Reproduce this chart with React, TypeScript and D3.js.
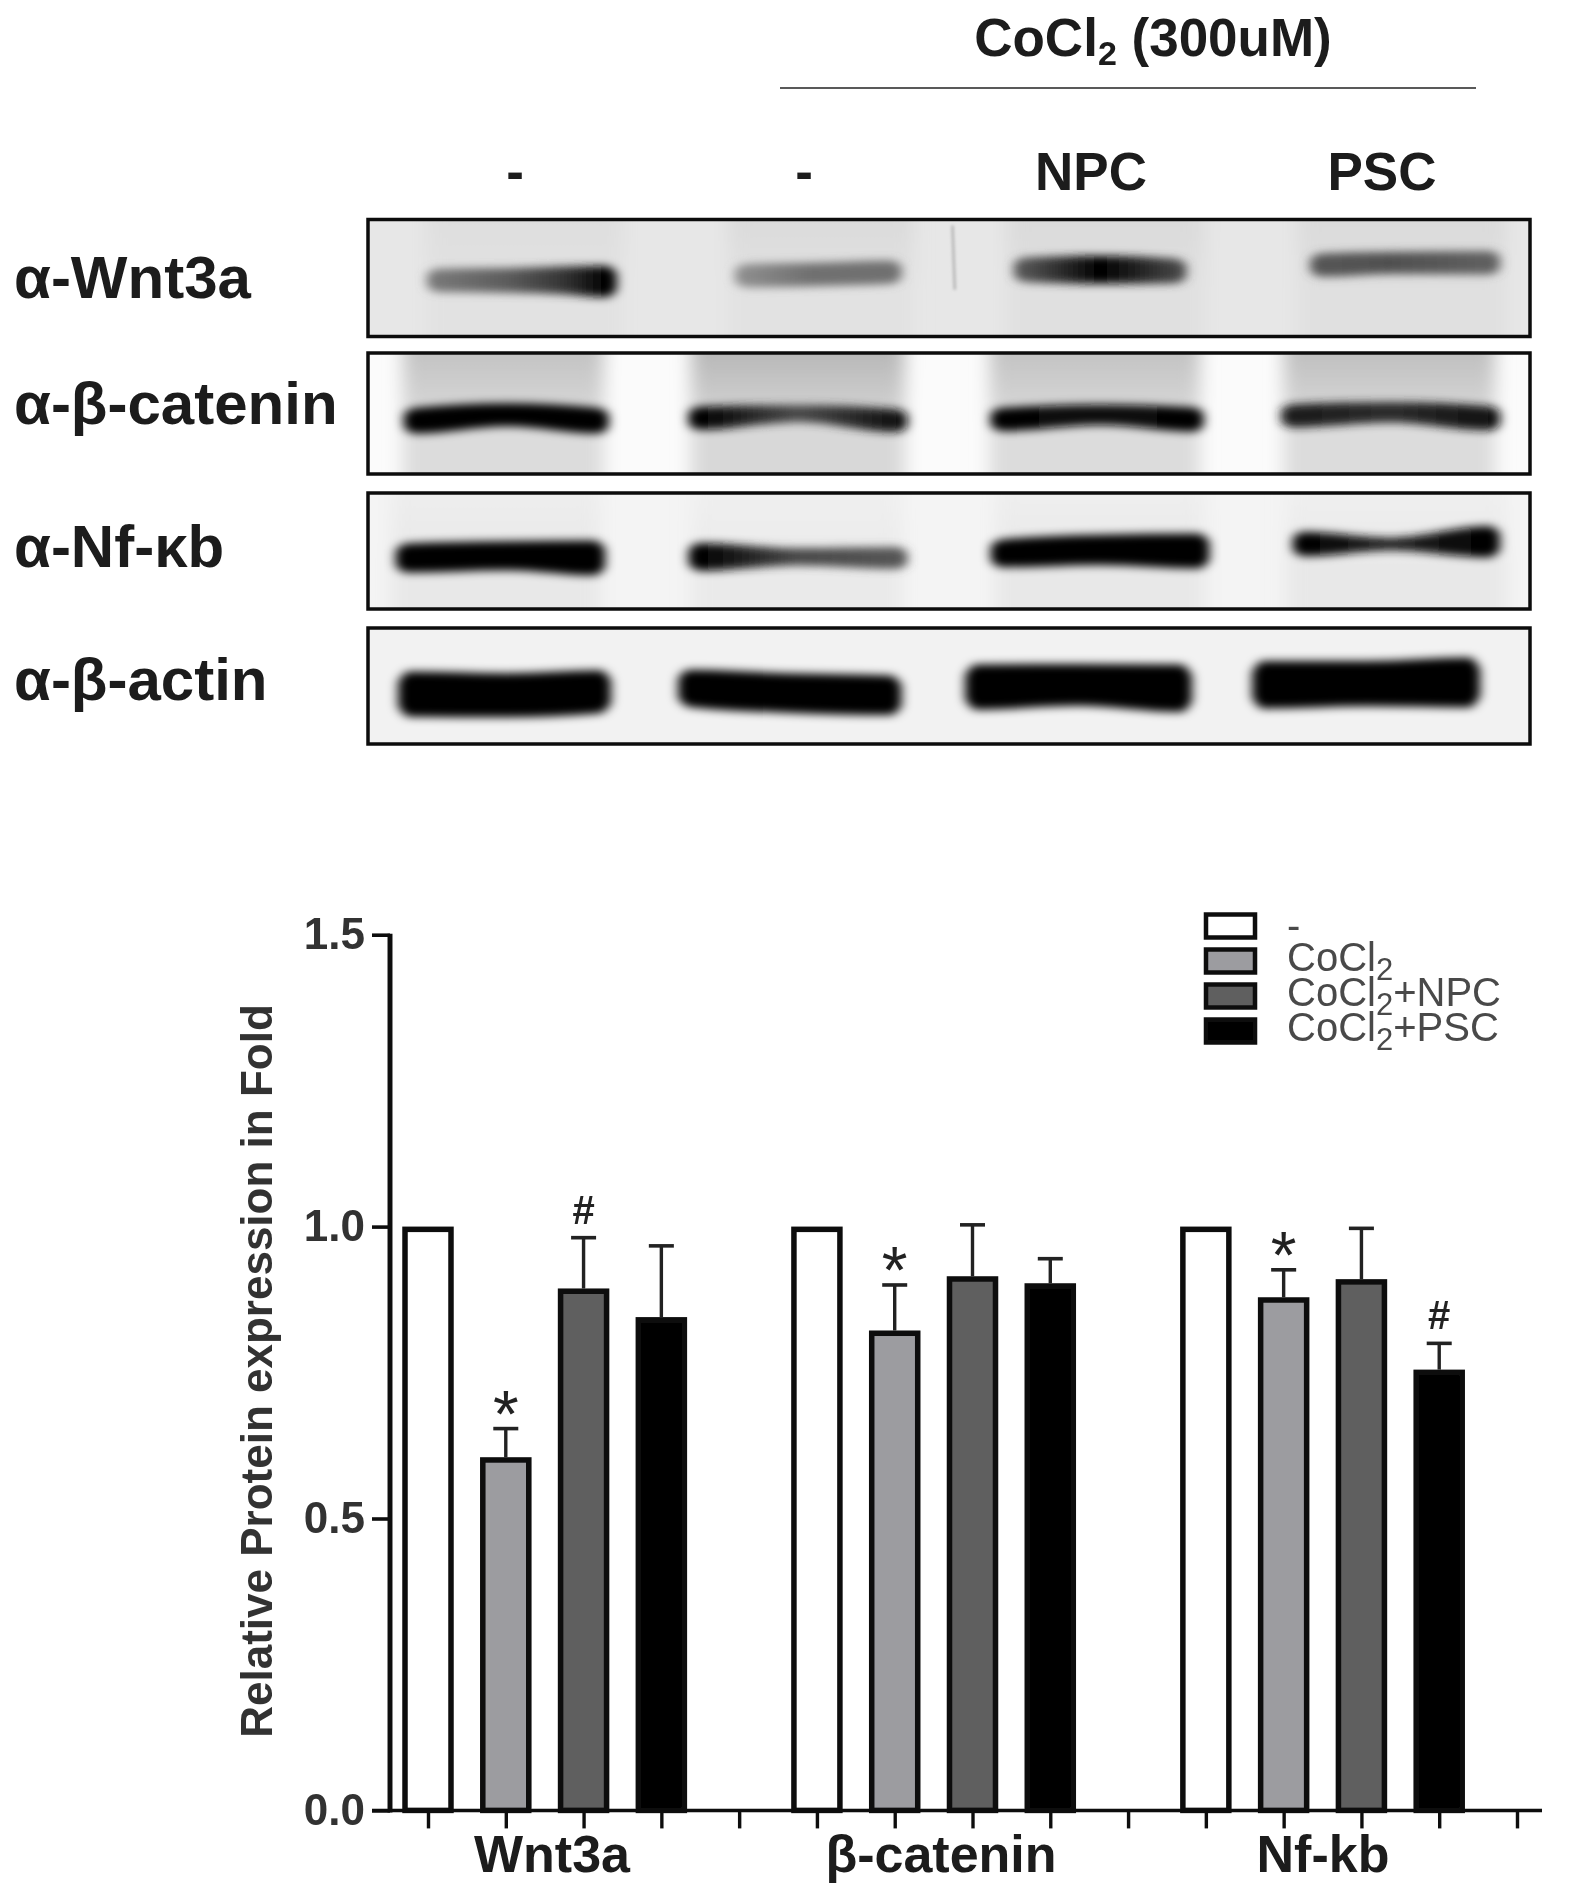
import React, { useEffect, useRef } from 'react';
import * as d3 from 'd3';

const groups = ['Wnt3a', 'β-catenin', 'Nf-kb'];
const groupLabelX = [552, 941, 1323];
const seriesNames = ['-', 'CoCl', 'CoCl', 'CoCl'];
const seriesSuffix = ['', '', '+NPC', '+PSC'];
const seriesFill = ['#ffffff', '#9c9ca0', '#5f5f5f', '#000000'];

// one row per group, one value per series
const means = [
    [1, 0.605, 0.894, 0.845],
    [1, 0.822, 0.915, 0.903],
    [1, 0.879, 0.91, 0.755],
];
const errorTops = [
    [null, 0.654, 0.981, 0.967],
    [null, 0.9, 1.003, 0.945],
    [null, 0.926, 0.997, 0.8],
];
const marks = [
    ['', '*', '#', ''],
    ['', '*', '', ''],
    ['', '*', '', '#'],
];
const yTicks = [0, 0.5, 1, 1.5];

const blotNames = ['α-Wnt3a', 'α-β-catenin', 'α-Nf-κb', 'α-β-actin'];
const blotTop = [219.5, 353, 493, 628];
const blotHeight = [117, 121, 116, 116];
const blotLabelBaseline = [298, 424, 567, 700];
const laneHeads = ['-', '-', 'NPC', 'PSC'];
const laneHeadX = [515, 804, 1091, 1382];
const blotBackground = ['#e7e7e7', '#fbfbfb', '#f4f4f4', '#f2f2f2'];

// faint lane smear behind the bands: [x from, x to] in % of the panel, top and bottom grey
const blotLanes = [
    [[5, 22, '#dedede', '#e2e2e2'], [31, 47, '#dadada', '#e2e2e2'], [55, 72, '#dadada', '#e0e0e0'], [80, 98, '#dadada', '#e0e0e0']],
    [[3, 20.3, '#c0c0c0', '#dcdcdc'], [27.8, 46.2, '#b4b4b4', '#d8d8d8'], [53.5, 71.6, '#c0c0c0', '#dcdcdc'], [78.8, 97, '#bcbcbc', '#dcdcdc']],
    [[2, 20, '#eeeeee', '#e8e8e8'], [27.8, 46, '#f0f0f0', '#eaeaea'], [54, 72, '#efefef', '#e8e8e8'], [79, 98, '#f0f0f0', '#e8e8e8']],
    [],
];

// band outline: [x %, centre y %, thickness %, grey]
const blotBands = [
    [
        [[6, 52, 20, '#777777'], [12, 52, 21, '#5c5c5c'], [17, 52, 24, '#333333'], [20.5, 53, 27, '#000000']],
        [[32.5, 48, 20, '#8c8c8c'], [38, 47, 20, '#707070'], [45, 45, 20, '#707070']],
        [[56.5, 43, 21, '#555555'], [63, 43, 24, '#000000'], [69.5, 44, 21, '#444444']],
        [[82, 39, 20, '#555555'], [88, 37, 19, '#505050'], [96.5, 37, 20, '#606060']],
    ],
    [
        [[4, 56, 21, '#000000'], [12, 51, 19, '#000000'], [19.8, 56, 21, '#000000']],
        [[28.5, 54, 19, '#000000'], [37, 50, 14, '#4a4a4a'], [45.5, 56, 19, '#111111']],
        [[54.5, 55, 19, '#000000'], [63, 51, 17, '#111111'], [71, 55, 20, '#000000']],
        [[79.5, 52, 19, '#1a1a1a'], [88, 49, 17, '#2c2c2c'], [96.5, 54, 20, '#111111']],
    ],
    [
        [[3.3, 56, 25, '#000000'], [12, 54, 25, '#000000'], [19.5, 56, 30, '#000000']],
        [[28.5, 55, 24, '#000000'], [37, 55, 15, '#484848'], [45.5, 56, 19, '#555555']],
        [[54.5, 52, 24, '#000000'], [63, 49, 26, '#000000'], [71.5, 50, 30, '#000000']],
        [[80.5, 44, 21, '#000000'], [88, 44, 11, '#222222'], [96.5, 42, 27, '#000000']],
    ],
    [
        [[3.5, 57, 39, '#000000'], [12, 58, 38, '#000000'], [20, 55, 37, '#000000']],
        [[27.6, 52, 32, '#000000'], [36, 56, 34, '#000000'], [45, 58, 34, '#000000']],
        [[52.3, 51, 39, '#000000'], [61, 49, 36, '#000000'], [70, 52, 41, '#000000']],
        [[77, 49, 41, '#000000'], [86, 48, 39, '#000000'], [94.8, 47, 43, '#000000']],
    ],
];
const blotSmudge = [50.3, 5, 50.5, 60];

const WIDTH = 1569;
const HEIGHT = 1891;
const FONT = "'Liberation Sans', Arial, sans-serif";

export default function App() {
    const ref = useRef<SVGSVGElement>(null);

    useEffect(() => {
        const svg = d3.select(ref.current);
        svg.selectAll('*').remove();

        const defs = svg.append('defs');
        const blur = (id: string, dev: string | number) => {
            defs.append('filter').attr('id', id)
                .attr('x', '-30%').attr('y', '-80%').attr('width', '160%').attr('height', '260%')
                .append('feGaussianBlur').attr('stdDeviation', dev);
        };
        blur('bandBlur', '5.5 4.2');
        blur('laneBlur', '9 4');
        defs.append('filter').attr('id', 'smudgeBlur')
            .attr('filterUnits', 'userSpaceOnUse').attr('x', 0).attr('y', 0).attr('width', WIDTH).attr('height', HEIGHT)
            .append('feGaussianBlur').attr('stdDeviation', 1.4);
        defs.append('filter').attr('id', 'soft')
            .attr('x', '-5%').attr('y', '-5%').attr('width', '110%').attr('height', '110%')
            .append('feGaussianBlur').attr('stdDeviation', 0.7);

        // ---- blot panels ----
        const panelX = d3.scaleLinear().domain([0, 100]).range([368, 1530]);
        const blots = svg.append('g');

        blotNames.forEach((name, p) => {
            const top = blotTop[p];
            const h = blotHeight[p];
            const panelY = d3.scaleLinear().domain([0, 100]).range([top, top + h]);
            const clipId = 'panel' + p;
            defs.append('clipPath').attr('id', clipId).append('rect')
                .attr('x', panelX(0)).attr('y', top).attr('width', panelX(100) - panelX(0)).attr('height', h);

            const g = blots.append('g').attr('clip-path', `url(#${clipId})`);
            g.append('rect').attr('x', panelX(0)).attr('y', top)
                .attr('width', panelX(100) - panelX(0)).attr('height', h)
                .attr('fill', blotBackground[p]);

            blotLanes[p].forEach((lane: any, l) => {
                const id = `lane${p}-${l}`;
                const grad = defs.append('linearGradient').attr('id', id).attr('x1', 0).attr('x2', 0).attr('y1', 0).attr('y2', 1);
                grad.append('stop').attr('offset', '0%').attr('stop-color', lane[2]);
                grad.append('stop').attr('offset', '60%').attr('stop-color', lane[3]);
                grad.append('stop').attr('offset', '100%').attr('stop-color', lane[3]);
                g.append('rect')
                    .attr('x', panelX(lane[0])).attr('y', top - 10)
                    .attr('width', panelX(lane[1]) - panelX(lane[0])).attr('height', h + 20)
                    .attr('fill', `url(#${id})`).attr('filter', 'url(#laneBlur)');
            });

            const area = d3.area<any>()
                .x(d => panelX(d[0]))
                .y0(d => panelY(d[1] - d[2] / 2))
                .y1(d => panelY(d[1] + d[2] / 2))
                .curve(d3.curveMonotoneX);

            blotBands[p].forEach((band: any[], b) => {
                const id = `band${p}-${b}`;
                const first = band[0];
                const last = band[band.length - 1];
                // taper the ends so the band does not stop square
                const outline = [
                    [first[0] - 0.9, first[1], first[2] * 0.55, first[3]],
                    ...band,
                    [last[0] + 0.9, last[1], last[2] * 0.55, last[3]],
                ];
                const x0 = outline[0][0];
                const x1 = outline[outline.length - 1][0];
                const grad = defs.append('linearGradient').attr('id', id);
                outline.forEach(pt => {
                    grad.append('stop')
                        .attr('offset', ((pt[0] - x0) / (x1 - x0)) * 100 + '%')
                        .attr('stop-color', pt[3]);
                });
                g.append('path').attr('d', area(outline)).attr('fill', `url(#${id})`)
                    .attr('filter', 'url(#bandBlur)');
            });

            if (p === 0) {
                g.append('line')
                    .attr('x1', panelX(blotSmudge[0])).attr('y1', panelY(blotSmudge[1]))
                    .attr('x2', panelX(blotSmudge[2])).attr('y2', panelY(blotSmudge[3]))
                    .attr('stroke', '#b4b4b4').attr('stroke-width', 2.5)
                    .attr('filter', 'url(#smudgeBlur)');
            }

            blots.append('rect').attr('x', panelX(0)).attr('y', top)
                .attr('width', panelX(100) - panelX(0)).attr('height', h)
                .attr('fill', 'none').attr('stroke', '#0c0c0c').attr('stroke-width', 3.5);

            blots.append('text').attr('x', 14).attr('y', blotLabelBaseline[p])
                .attr('font-family', FONT).attr('font-weight', 700).attr('font-size', 60)
                .attr('fill', '#1a1a1a').attr('filter', 'url(#soft)').text(name);
        });

        const head = svg.append('g').attr('font-family', FONT).attr('font-weight', 700)
            .attr('fill', '#1a1a1a').attr('text-anchor', 'middle').attr('filter', 'url(#soft)');
        laneHeads.forEach((t, i) => {
            head.append('text').attr('x', laneHeadX[i]).attr('y', 190)
                .attr('font-size', 53).text(t);
        });
        const coTitle = head.append('text').attr('x', 1153).attr('y', 56).attr('font-size', 53);
        coTitle.append('tspan').text('CoCl');
        coTitle.append('tspan').attr('font-size', 34).attr('dy', 9).text('2');
        coTitle.append('tspan').attr('dy', -9).text(' (300uM)');
        svg.append('line').attr('x1', 780).attr('x2', 1476).attr('y1', 88).attr('y2', 88)
            .attr('stroke', '#222').attr('stroke-width', 1.6);

        // ---- bar chart ----
        const y = d3.scaleLinear().domain([0, 1.5]).range([1810.4, 934.7]);
        const slots = d3.range(15);
        const x = d3.scalePoint<number>().domain(slots).range([428, 1517]);
        const barWidth = 46;
        const barStroke = 5.5;
        const chart = svg.append('g').attr('filter', 'url(#soft)');

        means.forEach((row, g) => {
            row.forEach((v, s) => {
                const cx = x(g * 5 + s) as number;
                const top = errorTops[g][s];
                if (top !== null) {
                    chart.append('line').attr('x1', cx).attr('x2', cx).attr('y1', y(v)).attr('y2', y(top))
                        .attr('stroke', '#222').attr('stroke-width', 3.4);
                    chart.append('line').attr('x1', cx - 12.5).attr('x2', cx + 12.5).attr('y1', y(top)).attr('y2', y(top))
                        .attr('stroke', '#222').attr('stroke-width', 3.6);
                }
                // values were read at the outer edge of the outline
                chart.append('rect')
                    .attr('x', cx - barWidth / 2).attr('y', y(v) + barStroke / 2)
                    .attr('width', barWidth).attr('height', y(0) - y(v) - barStroke / 2)
                    .attr('fill', seriesFill[s]).attr('stroke', '#0c0c0c').attr('stroke-width', barStroke);
                const m = marks[g][s];
                if (m) {
                    const anchor = y(top as number);
                    chart.append('text').attr('x', cx).attr('text-anchor', 'middle')
                        .attr('y', m === '*' ? anchor + 8 : anchor - 14)
                        .attr('font-family', FONT)
                        .attr('font-size', m === '*' ? 66 : 40)
                        .attr('font-weight', m === '*' ? 400 : 700)
                        .attr('fill', '#222').text(m);
                }
            });
        });

        const xAxis = chart.append('g').attr('transform', `translate(0,${y(0)})`)
            .call(d3.axisBottom(x).tickSize(18).tickFormat(() => '' as any));
        xAxis.select('.domain').attr('d', `M${372},0H${1542}`).attr('stroke', '#111').attr('stroke-width', 3.5);
        xAxis.selectAll('.tick line').attr('stroke', '#111').attr('stroke-width', 3.4);

        const yAxis = chart.append('g').attr('transform', 'translate(390,0)')
            .call(d3.axisLeft(y).tickValues(yTicks).tickSize(18).tickFormat(d3.format('.1f') as any));
        yAxis.select('.domain').attr('stroke', '#111').attr('stroke-width', 5)
            .attr('d', `M0,${y(1.5) - 1}V${y(0) + 2}`);
        yAxis.selectAll('.tick line').attr('stroke', '#111').attr('stroke-width', 3.6);
        yAxis.selectAll('.tick text').attr('font-family', FONT).attr('font-weight', 700)
            .attr('font-size', 44).attr('fill', '#333').attr('dx', -4);

        groups.forEach((name, i) => {
            chart.append('text').attr('x', groupLabelX[i]).attr('y', 1872)
                .attr('text-anchor', 'middle').attr('font-family', FONT).attr('font-weight', 700)
                .attr('font-size', 52).attr('fill', '#1a1a1a').text(name);
        });

        chart.append('text')
            .attr('transform', 'translate(272,1371) rotate(-90)')
            .attr('text-anchor', 'middle').attr('font-family', FONT).attr('font-weight', 700)
            .attr('font-size', 44).attr('fill', '#333')
            .text('Relative Protein expression in Fold');

        // ---- legend ----
        const legendY = d3.scalePoint<number>().domain(d3.range(4)).range([926, 1031]);
        const legend = svg.append('g').attr('filter', 'url(#soft)');
        seriesNames.forEach((name, i) => {
            const cy = legendY(i) as number;
            legend.append('rect').attr('x', 1206).attr('y', cy - 11.5).attr('width', 49).attr('height', 23)
                .attr('fill', seriesFill[i]).attr('stroke', '#0c0c0c').attr('stroke-width', 4.5);
            const t = legend.append('text').attr('x', 1287).attr('y', cy + 10 + (i === 0 ? 3 : 0))
                .attr('font-family', FONT).attr('font-size', 40).attr('fill', '#4a4a4a');
            t.append('tspan').text(name);
            if (i > 0) {
                t.append('tspan').attr('font-size', 31).attr('dy', 9).text('2');
                if (seriesSuffix[i]) t.append('tspan').attr('dy', -9).text(seriesSuffix[i]);
            }
        });
    }, []);

    return (
        <svg
            ref={ref}
            width={WIDTH}
            height={HEIGHT}
            viewBox={`0 0 ${WIDTH} ${HEIGHT}`}
            style={{ position: 'absolute', left: 0, top: 0, background: '#fff' }}
        />
    );
}
